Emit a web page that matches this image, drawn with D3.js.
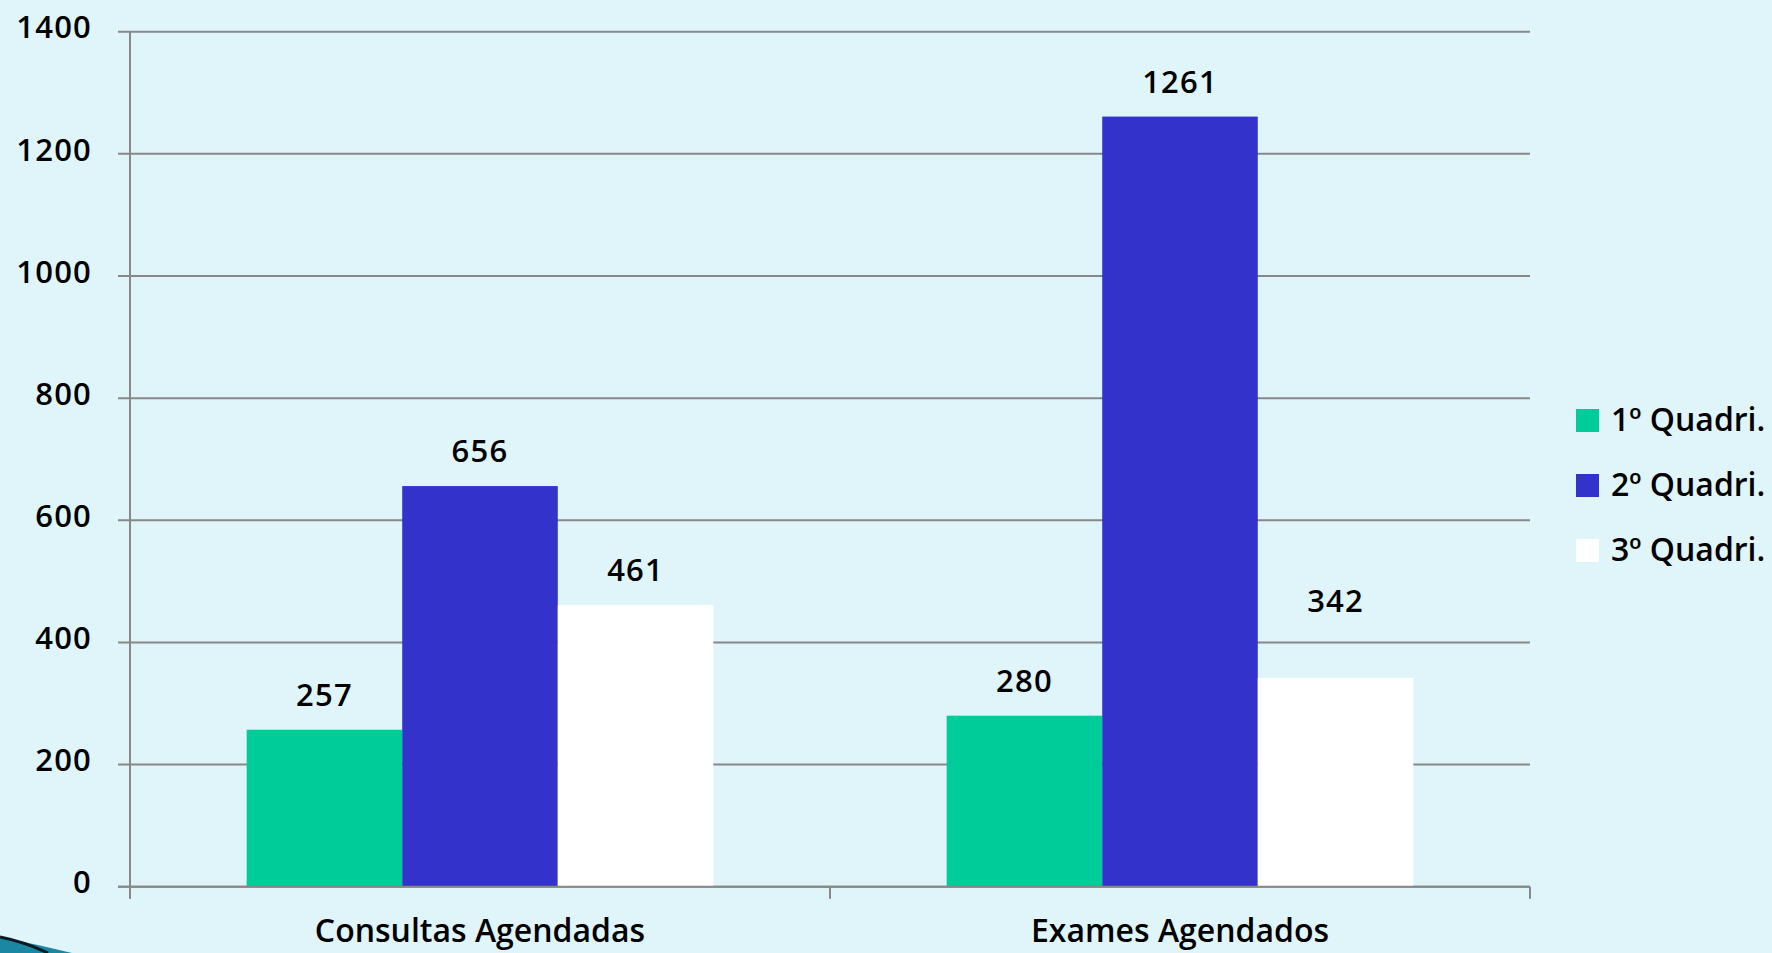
<!DOCTYPE html>
<html>
<head>
<meta charset="utf-8">
<script src="https://cdn.jsdelivr.net/npm/d3@7"></script>
<style>
  html, body { margin: 0; padding: 0; background: #dff5fa; }
  svg { display: block; font-family: "Open Sans", sans-serif; font-weight: 600; }
</style>
</head>
<body>
<svg id="chart" width="1772" height="953"></svg>
<script>
// chart data
var categories = ['Consultas Agendadas', 'Exames Agendados'];
var series = ['1º Quadri.', '2º Quadri.', '3º Quadri.'];
var q1Values = [257, 280];
var q2Values = [656, 1261];
var q3Values = [461, 342];
var yTicks = [0, 200, 400, 600, 800, 1000, 1200, 1400];

var colors = ['#00cc99', '#3333cc', '#ffffff'];
var valuesBySeries = [q1Values, q2Values, q3Values];

// the 342 label sits higher in the original slide
var labelLift = { 'Exames Agendados|3º Quadri.': 42 };

var svg = d3.select('#chart');
var plot = { left: 130, right: 1530, top: 31.7, bottom: 886.7 };

var y = d3.scaleLinear().domain([0, 1400]).range([plot.bottom, plot.top]);
var x0 = d3.scaleBand().domain(categories)
    .range([plot.left, plot.right])
    .paddingInner(1 / 3).paddingOuter(1 / 6);
var x1 = d3.scaleBand().domain(series).range([0, x0.bandwidth()]);

// background
svg.append('rect').attr('width', 1772).attr('height', 953).attr('fill', '#dff5fa');

// grid lines
svg.append('g').selectAll('line')
    .data(yTicks)
    .enter().append('line')
    .attr('x1', plot.left - 12).attr('x2', plot.right)
    .attr('y1', function (d) { return y(d); })
    .attr('y2', function (d) { return y(d); })
    .attr('stroke', '#888888').attr('stroke-width', 2);

// bars
var rows = [];
categories.forEach(function (cat, ci) {
  series.forEach(function (s, si) {
    rows.push({ cat: cat, series: s, value: valuesBySeries[si][ci], color: colors[si] });
  });
});

svg.append('g').selectAll('rect')
    .data(rows)
    .enter().append('rect')
    .attr('x', function (d) { return x0(d.cat) + x1(d.series); })
    .attr('y', function (d) { return y(d.value); })
    .attr('width', x1.bandwidth())
    .attr('height', function (d) { return y(0) - y(d.value); })
    .attr('fill', function (d) { return d.color; });

// value labels
svg.append('g').selectAll('text')
    .data(rows)
    .enter().append('text')
    .attr('x', function (d) { return x0(d.cat) + x1(d.series) + x1.bandwidth() / 2; })
    .attr('y', function (d) {
      return y(d.value) - 24 - (labelLift[d.cat + '|' + d.series] || 0);
    })
    .attr('text-anchor', 'middle')
    .attr('font-size', 31)
    .attr('letter-spacing', 1.2)
    .attr('fill', '#000')
    .text(function (d) { return d.value; });

// y axis
var yAxis = d3.axisLeft(y).tickValues(yTicks).tickFormat(d3.format('d'))
    .tickSizeInner(12).tickSizeOuter(0).tickPadding(26);
var gy = svg.append('g').attr('transform', 'translate(' + plot.left + ',0)').call(yAxis);
gy.select('.domain').remove();
gy.selectAll('line').remove();
gy.selectAll('text').attr('font-size', 31).attr('fill', '#000')
    .attr('font-family', '"Open Sans", sans-serif')
    .attr('letter-spacing', 1.2)
    .attr('dy', '0.2em');

svg.append('line')
    .attr('x1', plot.left).attr('x2', plot.left)
    .attr('y1', plot.top).attr('y2', plot.bottom + 12)
    .attr('stroke', '#888888').attr('stroke-width', 2);

// x axis baseline + boundary ticks
svg.append('line')
    .attr('x1', plot.left - 12).attr('x2', plot.right)
    .attr('y1', plot.bottom).attr('y2', plot.bottom)
    .attr('stroke', '#888888').attr('stroke-width', 2);

var step = x0.step();
var bounds = [plot.left].concat(categories.map(function (c) {
  return x0(c) + x0.bandwidth() + step * x0.paddingInner() / 2;
}));
svg.append('g').selectAll('line')
    .data(bounds)
    .enter().append('line')
    .attr('x1', function (d) { return d; }).attr('x2', function (d) { return d; })
    .attr('y1', plot.bottom).attr('y2', plot.bottom + 12)
    .attr('stroke', '#888888').attr('stroke-width', 2);

var xAxis = d3.axisBottom(x0).tickSize(0).tickPadding(0);
var gx = svg.append('g').attr('transform', 'translate(0,' + plot.bottom + ')').call(xAxis);
gx.select('.domain').remove();
gx.selectAll('text').attr('font-size', 32).attr('fill', '#000')
    .attr('font-family', '"Open Sans", sans-serif')
    .attr('dy', null).attr('y', 55);

// legend
var legend = svg.append('g').attr('transform', 'translate(1576,409)');
var items = legend.selectAll('g')
    .data(series)
    .enter().append('g')
    .attr('transform', function (d, i) { return 'translate(0,' + i * 65 + ')'; });
items.append('rect')
    .attr('width', 23).attr('height', 23)
    .attr('fill', function (d, i) { return colors[i]; });
items.append('text')
    .attr('x', 35).attr('y', 22)
    .attr('font-size', 32)
    .attr('fill', '#000')
    .text(function (d) { return d; });

// slide corner decoration
svg.append('path')
    .attr('d', 'M0,937 Q35,944 72,953 L0,953 Z')
    .attr('fill', '#1b87a3');
svg.append('path')
    .attr('d', 'M0,937 Q25,942 48,953')
    .attr('fill', 'none').attr('stroke', '#0a1a22').attr('stroke-width', 3);
</script>
</body>
</html>
